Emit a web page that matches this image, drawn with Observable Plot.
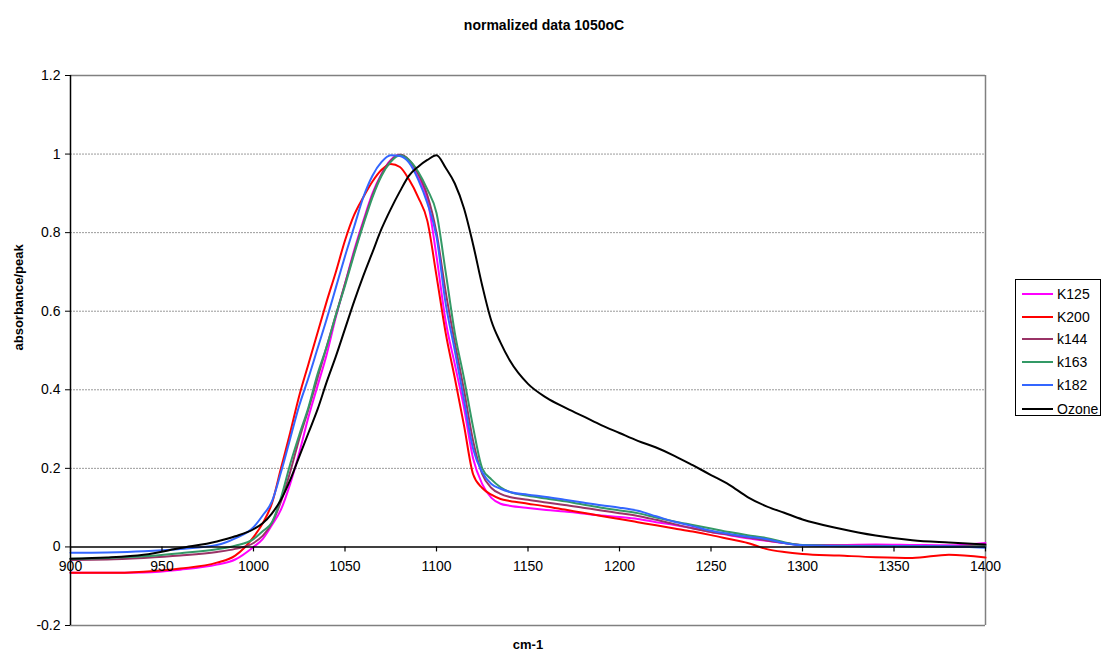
<!DOCTYPE html>
<html><head><meta charset="utf-8">
<script src="https://cdn.jsdelivr.net/npm/d3@7"></script>
<script src="https://cdn.jsdelivr.net/npm/@observablehq/plot@0.6"></script>
<style>
body{margin:0;background:#fff;font-family:"Liberation Sans",Arial,sans-serif;}
#wrap{position:relative;width:1107px;height:659px;overflow:hidden;}
#legend{position:absolute;left:1015px;top:279px;width:86px;height:137px;border:1px solid #000;box-sizing:border-box;}
.item{position:absolute;left:6px;height:16px;font-size:14px;line-height:16px;color:#000;}
.sw{position:absolute;left:0;top:7px;width:31px;height:2px;}
.lb{position:absolute;left:35px;top:0;white-space:nowrap;}
</style></head><body><div id="wrap"></div>
<script>
const title = "normalized data 1050oC";
const xLabel = "cm-1";
const yLabel = "absorbance/peak";
const xTicks = [900, 950, 1000, 1050, 1100, 1150, 1200, 1250, 1300, 1350, 1400];
const yTicks = [-0.2, 0, 0.2, 0.4, 0.6, 0.8, 1, 1.2];
const yGrid = [0.2, 0.4, 0.6, 0.8, 1];
const seriesNames = ["K125", "K200", "k144", "k163", "k182", "Ozone"];
const seriesColors = ["#FF00FF", "#FF0000", "#993366", "#339966", "#3366FF", "#000000"];

const wavenumber = [900,920,940,960,980,990,1000,1005,1010,1015,1020,1025,1030,1035,1040,1045,1050,1055,1060,1065,1070,1075,1080,1085,1090,1095,1100,1105,1110,1115,1120,1125,1130,1135,1140,1150,1160,1170,1180,1190,1200,1210,1220,1230,1240,1250,1260,1270,1280,1290,1300,1320,1340,1360,1380,1400];

const K125 = [-0.066,-0.066,-0.065,-0.058,-0.045,-0.032,0.0,0.02,0.055,0.095,0.16,0.24,0.33,0.41,0.49,0.585,0.67,0.755,0.83,0.9,0.95,0.985,0.998,0.98,0.94,0.885,0.74,0.575,0.465,0.355,0.225,0.16,0.125,0.11,0.105,0.099,0.094,0.09,0.085,0.08,0.076,0.071,0.063,0.056,0.048,0.038,0.03,0.022,0.016,0.01,0.005,0.005,0.006,0.005,0.004,0.01];
const K200 = [-0.066,-0.066,-0.063,-0.055,-0.04,-0.022,0.025,0.06,0.11,0.2,0.29,0.385,0.465,0.545,0.625,0.7,0.78,0.845,0.89,0.93,0.96,0.975,0.967,0.935,0.89,0.83,0.69,0.545,0.43,0.31,0.185,0.15,0.133,0.122,0.117,0.11,0.103,0.095,0.087,0.079,0.071,0.063,0.055,0.047,0.039,0.03,0.02,0.01,-0.005,-0.013,-0.018,-0.022,-0.026,-0.028,-0.02,-0.027];
const k144 = [-0.033,-0.032,-0.028,-0.022,-0.013,-0.005,0.01,0.028,0.06,0.115,0.19,0.275,0.35,0.43,0.51,0.59,0.67,0.75,0.825,0.895,0.948,0.983,0.998,0.985,0.95,0.895,0.8,0.65,0.52,0.4,0.27,0.185,0.15,0.135,0.127,0.12,0.113,0.107,0.1,0.093,0.086,0.079,0.069,0.058,0.047,0.038,0.031,0.024,0.017,0.01,0.005,0.003,0.003,0.002,0.002,0.003];
const k163 = [-0.03,-0.028,-0.024,-0.016,-0.006,0.003,0.02,0.04,0.062,0.125,0.21,0.285,0.355,0.44,0.51,0.59,0.665,0.745,0.82,0.89,0.945,0.98,0.997,0.985,0.955,0.91,0.85,0.7,0.545,0.43,0.305,0.2,0.172,0.152,0.14,0.13,0.123,0.116,0.108,0.1,0.093,0.086,0.075,0.065,0.056,0.047,0.038,0.03,0.023,0.012,0.005,0.003,0.002,0.002,0.0,0.002];
const k182 = [-0.015,-0.014,-0.011,-0.005,0.005,0.022,0.05,0.08,0.115,0.19,0.275,0.36,0.43,0.505,0.58,0.66,0.74,0.815,0.89,0.945,0.98,0.997,0.995,0.978,0.935,0.875,0.79,0.62,0.5,0.375,0.25,0.19,0.16,0.148,0.14,0.133,0.127,0.12,0.113,0.106,0.1,0.092,0.078,0.064,0.053,0.041,0.033,0.026,0.02,0.01,0.004,0.002,0.002,0.002,0.002,-0.002];
const Ozone = [-0.03,-0.027,-0.02,-0.003,0.014,0.027,0.045,0.06,0.085,0.12,0.17,0.23,0.29,0.35,0.42,0.485,0.555,0.625,0.69,0.75,0.81,0.86,0.905,0.945,0.968,0.985,0.997,0.965,0.925,0.862,0.77,0.665,0.575,0.52,0.475,0.415,0.38,0.355,0.333,0.31,0.29,0.27,0.253,0.232,0.208,0.183,0.158,0.127,0.104,0.087,0.07,0.047,0.029,0.017,0.011,0.006];

const seriesValues = [K125, K200, k144, k163, k182, Ozone];
const font = '"Liberation Sans", Arial, sans-serif';

const lineMarks = seriesValues.map((vals, s) =>
  Plot.line(wavenumber.map((w, i) => ({w, v: vals[i]})), {
    x: "w", y: "v", stroke: seriesColors[s], strokeWidth: 2, curve: "monotone-x"
  })
);

const chart = Plot.plot({
  width: 1107, height: 659,
  marginLeft: 70, marginRight: 122, marginTop: 75, marginBottom: 34,
  x: {domain: [900, 1400], axis: null},
  y: {domain: [-0.2, 1.2], axis: null},
  style: {fontFamily: font, fontSize: "14px", background: "white", overflow: "visible"},
  marks: [
    Plot.ruleY(yGrid, {stroke: "#9a9a9a", strokeDasharray: "2,1"}),
    Plot.ruleY([-0.2, 1.2], {stroke: "#808080", strokeWidth: 1.5}),
    Plot.ruleX([1400], {stroke: "#808080", strokeWidth: 1.5}),
    ...lineMarks,
    Plot.ruleY([0], {stroke: "#000", strokeWidth: 1.5}),
    Plot.ruleX([900], {stroke: "#000", strokeWidth: 1.5}),
    Plot.axisY({ticks: yTicks, tickSize: 5, tickPadding: 5, tickFormat: d => String(d), label: null, fontSize: 14, stroke: "#000"}),
    Plot.ruleX(xTicks, {x: d => d, y1: 0, y2: 0, insetBottom: -5, stroke: "#000", strokeWidth: 1.2}),
    Plot.text(xTicks, {x: d => d, y: 0, dy: 20, text: d => String(d), fontSize: 14}),
    Plot.text([title], {text: d => d, frameAnchor: "top", dy: -55, dx: 16, fontWeight: "bold", fontSize: 14}),
    Plot.text([yLabel], {text: d => d, frameAnchor: "left", dx: -52, rotate: -90, fontWeight: "bold", fontSize: 13}),
    Plot.text([xLabel], {text: d => d, frameAnchor: "bottom", dy: 23, fontWeight: "bold", fontSize: 13})
  ]
});

const wrap = document.getElementById("wrap");
wrap.appendChild(chart);

const legend = document.createElement("div");
legend.id = "legend";
const rowCenters = [14, 36.7, 59.4, 82.1, 104.8, 128.5];
seriesNames.forEach((name, i) => {
  const item = document.createElement("div");
  item.className = "item";
  item.style.top = (rowCenters[i] - 8) + "px";
  const sw = document.createElement("div");
  sw.className = "sw";
  sw.style.background = seriesColors[i];
  const lb = document.createElement("div");
  lb.className = "lb";
  lb.textContent = name;
  item.appendChild(sw);
  item.appendChild(lb);
  legend.appendChild(item);
});
wrap.appendChild(legend);
</script>
</body></html>
